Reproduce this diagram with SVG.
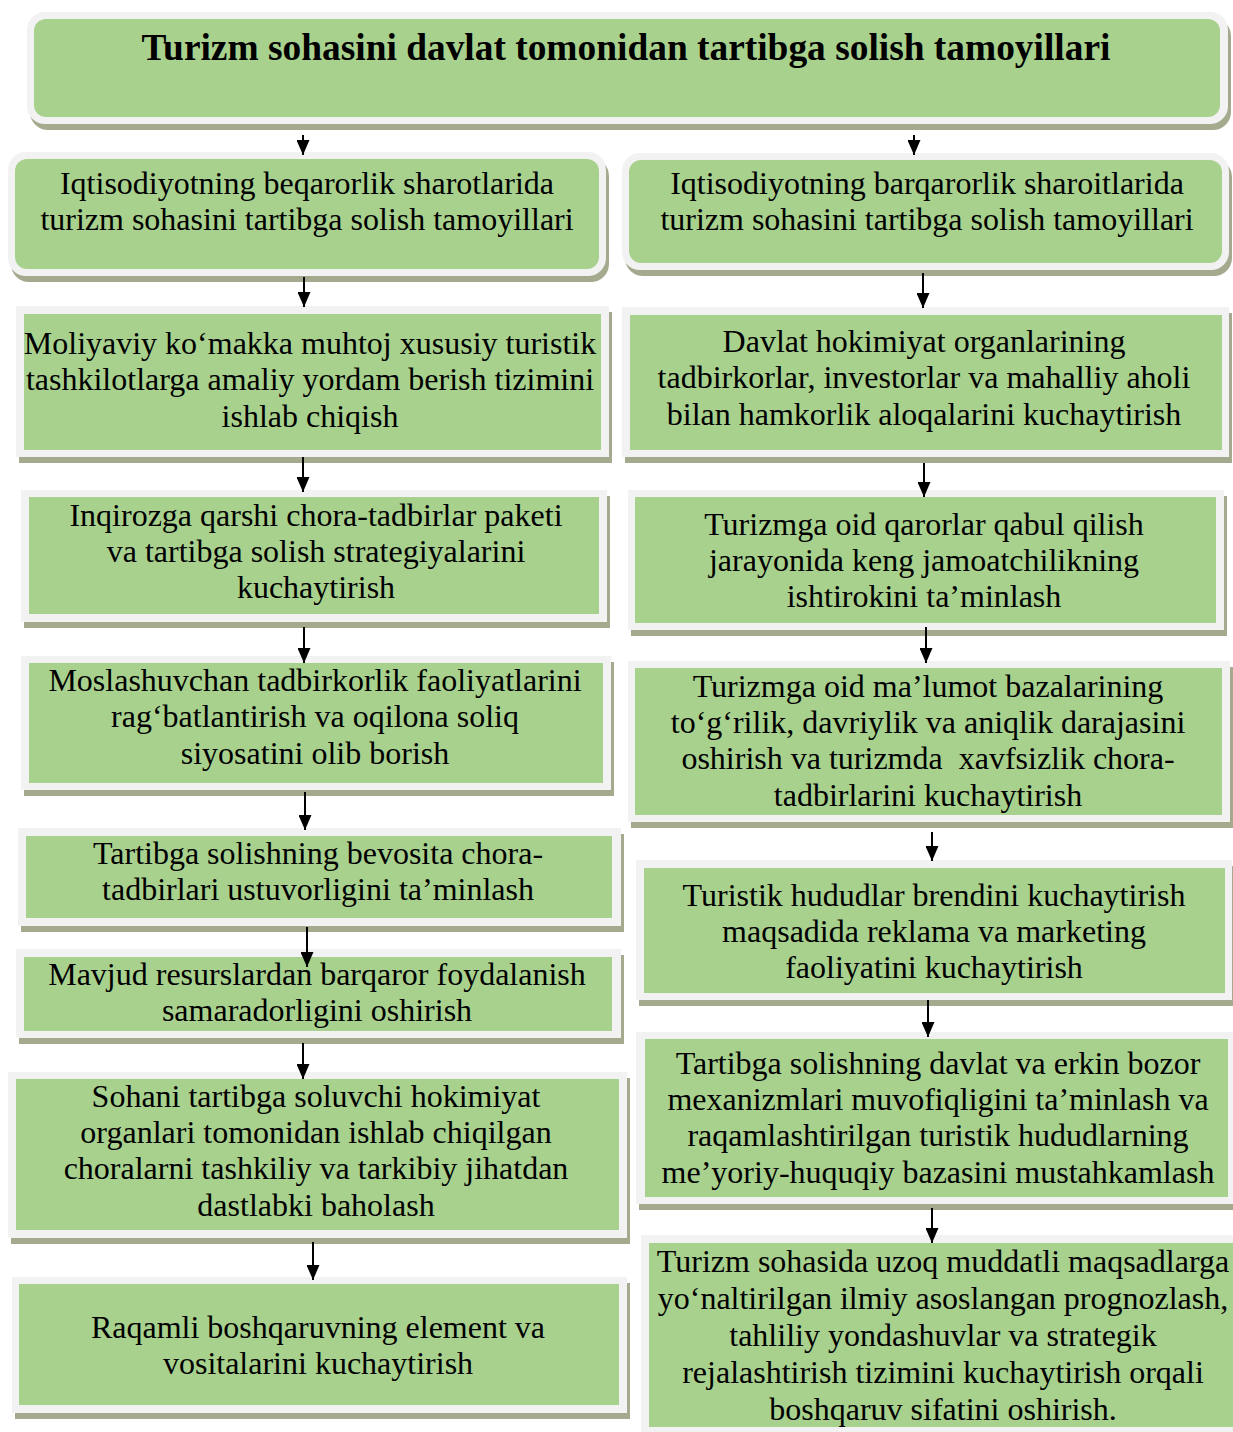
<svg xmlns="http://www.w3.org/2000/svg" width="1233" height="1432" viewBox="0 0 1233 1432">
<style>
.sh{fill:#A4AA8E}
.fr{fill:#F2F2F2}
.bg{fill:#A9D18E}
text{font-family:"Liberation Serif","Times New Roman",serif;font-size:32px;fill:#000;text-anchor:middle}
.t{font-weight:bold;font-size:37.4px}
.ar{stroke:#000;stroke-width:2;fill:none;marker-end:url(#ah)}
</style>
<defs>
<marker id="ah" markerUnits="userSpaceOnUse" markerWidth="15" markerHeight="13" refX="15" refY="6.5" orient="auto"><path d="M0,0 L15,6.5 L0,13 z" fill="#000"/></marker>
</defs>
<rect width="1233" height="1432" fill="#fff"/>

<g id="title">
<rect class="sh" x="30" y="18" width="1201" height="112" rx="18"/>
<rect class="fr" x="27" y="12" width="1201" height="112" rx="18"/>
<rect class="bg" x="34" y="19" width="1186" height="98" rx="12"/>
<text class="t" x="626" y="60">Turizm sohasini davlat tomonidan tartibga solish tamoyillari</text>
</g>

<g id="L1">
<rect class="sh" x="11" y="158" width="598" height="124" rx="18"/>
<rect class="fr" x="8" y="152" width="598" height="124" rx="18"/>
<rect class="bg" x="15" y="159" width="584" height="110" rx="12"/>
<text x="307" y="194">Iqtisodiyotning beqarorlik sharotlarida</text>
<text x="307" y="230">turizm sohasini tartibga solish tamoyillari</text>
</g>

<g id="L2">
<rect class="sh" x="19" y="312" width="593" height="151"/>
<rect class="fr" x="16" y="306" width="593" height="151"/>
<rect class="bg" x="24" y="314" width="577" height="136"/>
<text x="310" y="354">Moliyaviy ko‘makka muhtoj xususiy turistik</text>
<text x="310" y="390">tashkilotlarga amaliy yordam berish tizimini</text>
<text x="310" y="427">ishlab chiqish</text>
</g>

<g id="L3">
<rect class="sh" x="24" y="496" width="586" height="132"/>
<rect class="fr" x="21" y="490" width="586" height="132"/>
<rect class="bg" x="29" y="497" width="570" height="117"/>
<text x="316" y="526">Inqirozga qarshi chora-tadbirlar paketi</text>
<text x="316" y="562">va tartibga solish strategiyalarini</text>
<text x="316" y="598">kuchaytirish</text>
</g>

<g id="L4">
<rect class="sh" x="24" y="662" width="590" height="134"/>
<rect class="fr" x="21" y="656" width="590" height="134"/>
<rect class="bg" x="29" y="663" width="574" height="120"/>
<text x="315" y="691">Moslashuvchan tadbirkorlik faoliyatlarini</text>
<text x="315" y="727">rag‘batlantirish va oqilona soliq</text>
<text x="315" y="764">siyosatini olib borish</text>
</g>

<g id="L5">
<rect class="sh" x="21" y="834" width="603" height="98"/>
<rect class="fr" x="18" y="828" width="603" height="98"/>
<rect class="bg" x="26" y="836" width="586" height="82"/>
<text x="318" y="864">Tartibga solishning bevosita chora-</text>
<text x="318" y="900">tadbirlari ustuvorligini ta’minlash</text>
</g>

<g id="L6">
<rect class="sh" x="19" y="955" width="605" height="89"/>
<rect class="fr" x="16" y="949" width="605" height="89"/>
<rect class="bg" x="24" y="957" width="588" height="74"/>
<text x="317" y="985">Mavjud resurslardan barqaror foydalanish</text>
<text x="317" y="1021">samaradorligini oshirish</text>
</g>

<g id="L7">
<rect class="sh" x="11" y="1078" width="619" height="166"/>
<rect class="fr" x="8" y="1072" width="619" height="166"/>
<rect class="bg" x="16" y="1079" width="603" height="151"/>
<text x="316" y="1107">Sohani tartibga soluvchi hokimiyat</text>
<text x="316" y="1143">organlari tomonidan ishlab chiqilgan</text>
<text x="316" y="1179">choralarni tashkiliy va tarkibiy jihatdan</text>
<text x="316" y="1216">dastlabki baholash</text>
</g>

<g id="L8">
<rect class="sh" x="15" y="1283" width="615" height="136"/>
<rect class="fr" x="12" y="1277" width="615" height="136"/>
<rect class="bg" x="19" y="1284" width="600" height="121"/>
<text x="318" y="1338">Raqamli boshqaruvning element va</text>
<text x="318" y="1374">vositalarini kuchaytirish</text>
</g>

<g id="R1">
<rect class="sh" x="625" y="159" width="607" height="117" rx="18"/>
<rect class="fr" x="622" y="153" width="607" height="117" rx="18"/>
<rect class="bg" x="629" y="160" width="593" height="103" rx="12"/>
<text x="927" y="194">Iqtisodiyotning barqarorlik sharoitlarida</text>
<text x="927" y="230">turizm sohasini tartibga solish tamoyillari</text>
</g>

<g id="R2">
<rect class="sh" x="625" y="313" width="607" height="150"/>
<rect class="fr" x="622" y="307" width="607" height="150"/>
<rect class="bg" x="630" y="315" width="592" height="135"/>
<text x="924" y="352">Davlat hokimiyat organlarining</text>
<text x="924" y="388">tadbirkorlar, investorlar va mahalliy aholi</text>
<text x="924" y="425">bilan hamkorlik aloqalarini kuchaytirish</text>
</g>

<g id="R3">
<rect class="sh" x="631" y="496" width="596" height="140"/>
<rect class="fr" x="628" y="490" width="596" height="140"/>
<rect class="bg" x="635" y="497" width="581" height="126"/>
<text x="924" y="535">Turizmga oid qarorlar qabul qilish</text>
<text x="924" y="571">jarayonida keng jamoatchilikning</text>
<text x="924" y="607">ishtirokini ta’minlash</text>
</g>

<g id="R4">
<rect class="sh" x="631" y="667" width="602" height="161"/>
<rect class="fr" x="628" y="661" width="602" height="161"/>
<rect class="bg" x="635" y="668" width="587" height="147"/>
<text x="928" y="697">Turizmga oid ma’lumot bazalarining</text>
<text x="928" y="733">to‘g‘rilik, davriylik va aniqlik darajasini</text>
<text x="928" y="769" xml:space="preserve">oshirish va turizmda  xavfsizlik chora-</text>
<text x="928" y="806">tadbirlarini kuchaytirish</text>
</g>

<g id="R5">
<rect class="sh" x="639" y="866" width="596" height="140"/>
<rect class="fr" x="636" y="860" width="596" height="140"/>
<rect class="bg" x="644" y="868" width="581" height="125"/>
<text x="934" y="906">Turistik hududlar brendini kuchaytirish</text>
<text x="934" y="942">maqsadida reklama va marketing</text>
<text x="934" y="978">faoliyatini kuchaytirish</text>
</g>

<g id="R6">
<rect class="sh" x="639" y="1038" width="600" height="172"/>
<rect class="fr" x="636" y="1032" width="600" height="172"/>
<rect class="bg" x="645" y="1039" width="583" height="158"/>
<text x="938" y="1074">Tartibga solishning davlat va erkin bozor</text>
<text x="938" y="1110">mexanizmlari muvofiqligini ta’minlash va</text>
<text x="938" y="1146">raqamlashtirilgan turistik hududlarning</text>
<text x="938" y="1183">me’yoriy-huquqiy bazasini mustahkamlash</text>
</g>

<g id="R7">
<rect class="sh" x="644" y="1241" width="599" height="200"/>
<rect class="fr" x="641" y="1235" width="599" height="200"/>
<rect class="bg" x="649" y="1243" width="590" height="184"/>
<text x="943" y="1272">Turizm sohasida uzoq muddatli maqsadlarga</text>
<text x="943" y="1309">yo‘naltirilgan ilmiy asoslangan prognozlash,</text>
<text x="943" y="1346">tahliliy yondashuvlar va strategik</text>
<text x="943" y="1383">rejalashtirish tizimini kuchaytirish orqali</text>
<text x="943" y="1420">boshqaruv sifatini oshirish.</text>
</g>

<g id="connectors">
<line class="ar" x1="303" y1="135" x2="303" y2="155"/>
<line class="ar" x1="914" y1="135" x2="914" y2="155"/>
<line class="ar" x1="304" y1="277" x2="304" y2="307"/>
<line class="ar" x1="303" y1="457" x2="303" y2="492"/>
<line class="ar" x1="304" y1="627" x2="304" y2="663"/>
<line class="ar" x1="305" y1="792" x2="305" y2="830"/>
<line class="ar" x1="307" y1="927" x2="307" y2="967"/>
<line class="ar" x1="303" y1="1043" x2="303" y2="1079"/>
<line class="ar" x1="313" y1="1242" x2="313" y2="1280"/>
<line class="ar" x1="923" y1="273" x2="923" y2="308"/>
<line class="ar" x1="924" y1="463" x2="924" y2="497"/>
<line class="ar" x1="926" y1="627" x2="926" y2="663"/>
<line class="ar" x1="932" y1="832" x2="932" y2="861"/>
<line class="ar" x1="928" y1="1000" x2="928" y2="1037"/>
<line class="ar" x1="932" y1="1208" x2="932" y2="1243"/>
</g>
</svg>
